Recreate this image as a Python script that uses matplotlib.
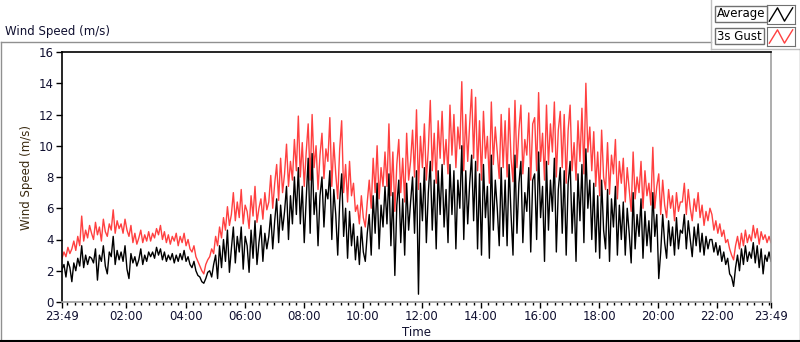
import numpy as np
import matplotlib.pyplot as plt
from matplotlib.lines import Line2D

# 4-minute samples from 23:49 to 23:49 next day (one row per hour)
gust = [
    2.8, 3.2, 2.9, 3.5, 3.1, 3.4, 3.9, 3.3, 4.2, 3.6, 5.5, 3.9, 4.6, 4.1, 4.9,
    4.4, 4.0, 5.1, 4.3, 4.8, 3.9, 5.3, 4.5, 4.2, 5.0, 4.6, 5.9, 4.4, 5.2, 4.7,
    5.0, 4.4, 5.3, 4.6, 4.2, 4.9, 3.8, 4.4, 3.7, 4.1, 4.6, 3.8, 4.3, 3.9, 4.5,
    3.9, 4.4, 4.1, 4.7, 4.3, 4.9, 4.0, 4.5, 3.8, 4.3, 3.7, 4.2, 3.9, 4.4, 3.6,
    4.2, 3.8, 4.4, 3.6, 4.0, 3.4, 3.2, 3.6, 2.9, 2.6, 2.3, 2.0, 1.8, 2.4, 2.7,
    2.9, 3.4, 3.1, 4.2, 3.6, 4.8, 4.1, 5.4, 4.6, 6.1, 4.9, 5.6, 7.0, 5.2, 6.4,
    5.4, 7.2, 5.0, 6.2, 5.8, 4.7, 6.8, 5.5, 7.4, 5.1, 6.0, 6.6, 5.3, 7.0, 5.9,
    6.4, 8.1, 6.0, 7.6, 8.8, 6.5, 9.2, 7.0, 8.2, 10.1, 7.4, 9.0, 7.8, 10.4, 8.4,
    11.9, 8.0, 10.2, 7.4, 9.6, 11.4, 7.8, 12.0, 8.6, 10.0, 7.2, 9.4, 10.8, 7.9, 9.8,
    9.0, 11.8, 7.4, 10.2, 8.2, 6.6, 9.8, 11.6, 7.0, 8.8, 6.4, 9.0, 6.8, 7.6, 5.8,
    6.2, 5.0, 6.8, 5.4, 4.8, 6.4, 7.8, 6.0, 9.2, 7.0, 10.0, 6.6, 8.6, 7.4, 9.6,
    7.4, 11.4, 6.8, 9.6, 5.8, 8.8, 10.4, 7.0, 9.2, 6.4, 10.8, 7.8, 9.0, 11.0, 8.0,
    12.3, 7.2, 10.6, 8.6, 11.4, 7.8, 9.8, 12.9, 8.4, 10.8, 7.6, 11.6, 9.2, 12.2, 8.8,
    10.4, 8.2, 12.6, 9.4, 12.0, 8.6, 11.2, 9.8, 14.1, 8.4, 12.0, 9.0, 11.4, 13.6, 9.2,
    13.1, 8.4, 11.6, 7.8, 12.2, 9.2, 10.6, 7.6, 12.8, 8.8, 11.2, 9.6, 7.9, 12.0, 8.6,
    11.6, 8.0, 12.4, 9.2, 7.7, 12.9, 8.6, 11.0, 12.6, 8.2, 10.4, 9.4, 12.1, 7.8, 11.4,
    11.8, 8.4, 13.4, 9.0, 10.8, 7.8, 12.6, 8.8, 11.4, 9.6, 12.8, 8.0, 11.0, 12.2, 8.6,
    12.0, 7.6, 11.0, 12.6, 8.4, 10.2, 7.8, 11.6, 9.0, 12.4, 8.2, 14.0, 9.6, 11.2, 8.4,
    10.9, 7.4, 9.6, 6.8, 11.0, 8.0, 7.2, 10.2, 6.9, 9.4, 8.2, 10.4, 6.6, 9.0, 7.6,
    9.2, 6.4, 8.6, 7.2, 5.8, 9.6, 6.6, 8.0, 7.0, 9.0, 6.0, 8.4, 6.8, 7.6, 6.2,
    9.9, 6.0, 7.4, 8.2, 5.6, 7.8, 6.2, 5.4, 7.2, 6.0, 6.8, 5.2, 7.0, 5.8, 6.4,
    6.4, 7.6, 5.6, 7.2, 6.0, 5.2, 6.6, 5.8, 7.0, 5.4, 6.2, 4.9, 5.8, 5.2, 6.0,
    5.6, 4.6, 5.2, 4.4, 5.0, 4.2, 4.6, 3.8, 4.0, 3.4, 3.0, 2.7, 3.6, 4.2, 3.4,
    4.4, 3.6, 4.6, 3.8, 4.3, 3.9, 4.9, 4.1, 4.7, 3.7, 4.5, 4.0, 4.3, 3.8, 4.2,
    3.8,
]

average = [
    2.1, 2.4, 1.6, 2.6, 2.2, 1.3, 2.5, 2.0, 2.8, 2.3, 3.6, 2.2, 3.0, 2.4, 2.9,
    2.8, 2.5, 3.4, 1.4, 3.0, 2.6, 3.6, 2.3, 1.8, 3.2, 2.9, 4.2, 2.4, 3.3, 2.7,
    3.2, 2.6, 3.6, 2.1, 1.5, 3.1, 2.5, 2.9, 2.3, 2.7, 3.4, 2.4, 3.0, 2.6, 3.2,
    2.9, 3.2, 2.8, 3.5, 3.0, 3.4, 2.7, 3.2, 2.6, 3.0, 2.7, 3.1, 2.5, 3.0, 2.6,
    3.1, 2.7, 3.3, 2.6, 2.9, 2.4, 2.2, 2.6, 2.0, 1.7, 1.6, 1.3, 1.2, 1.5, 1.9,
    2.0, 1.6, 2.4, 3.0, 1.5, 3.6, 2.2, 4.0, 2.6, 4.6, 1.9, 3.4, 4.8, 2.5, 4.2,
    3.2, 4.8, 2.1, 4.2, 3.6, 1.9, 4.6, 2.8, 5.2, 2.4, 3.8, 4.9, 2.6, 4.4, 3.4,
    4.2, 5.6, 3.4, 5.2, 6.6, 3.8, 6.2, 4.6, 5.8, 7.4, 4.0, 6.8, 5.0, 8.0, 5.6,
    8.6, 5.0, 7.4, 3.8, 6.6, 9.2, 4.4, 9.5, 5.6, 7.0, 3.6, 6.8, 8.0, 4.8, 7.2,
    6.6, 8.4, 4.0, 7.2, 5.6, 3.0, 6.4, 8.2, 4.2, 6.0, 2.8, 5.8, 3.6, 5.0, 2.7,
    4.2, 2.4, 4.8, 3.2, 2.6, 4.4, 5.6, 3.0, 6.8, 4.4, 7.6, 3.4, 6.2, 4.8, 7.4,
    5.0, 8.2, 3.6, 7.0, 1.7, 6.2, 7.8, 3.8, 6.6, 3.0, 7.6, 4.6, 6.4, 8.0, 4.4,
    8.4, 0.5, 7.6, 5.2, 8.6, 3.8, 7.0, 9.0, 4.6, 7.8, 3.4, 8.4, 5.6, 8.8, 4.8,
    7.2, 3.8, 8.8, 5.6, 8.4, 3.4, 7.8, 6.0, 10.0, 4.0, 8.4, 5.0, 7.6, 9.4, 5.2,
    9.0, 3.4, 8.2, 3.0, 8.8, 5.4, 7.4, 2.8, 9.4, 4.6, 7.8, 6.0, 3.6, 8.6, 4.2,
    7.8, 3.6, 8.8, 5.6, 3.0, 9.4, 4.4, 7.6, 9.0, 3.8, 7.0, 5.8, 8.6, 3.2, 7.8,
    8.2, 4.0, 9.6, 5.4, 7.4, 2.6, 9.0, 4.6, 7.8, 5.8, 9.2, 3.2, 7.2, 8.6, 4.4,
    8.4, 3.0, 7.6, 9.0, 4.4, 7.0, 2.6, 8.2, 5.2, 8.8, 3.8, 9.8, 6.0, 7.8, 4.0,
    7.6, 3.2, 6.8, 2.8, 7.8, 4.6, 3.4, 7.2, 2.6, 6.6, 4.8, 7.4, 3.0, 6.2, 4.0,
    6.4, 3.0, 6.0, 4.4, 2.5, 7.0, 3.4, 5.6, 4.2, 6.6, 2.8, 5.8, 3.6, 5.2, 3.2,
    7.0, 4.2, 5.6, 1.5, 3.2, 5.6, 3.8, 2.8, 5.2, 3.6, 4.8, 3.0, 5.4, 3.4, 4.6,
    4.4, 5.6, 3.4, 5.2, 4.0, 2.9, 4.8, 3.6, 5.0, 3.2, 4.4, 3.0, 4.2, 3.4, 4.0,
    4.0, 3.2, 3.8, 3.0, 3.6, 2.6, 3.2, 2.4, 2.8, 1.8, 1.6, 1.0, 2.2, 3.0, 2.0,
    3.4, 2.4, 3.6, 2.6, 3.2, 2.8, 3.8, 2.5, 3.6, 2.2, 3.4, 1.8, 3.0, 2.6, 3.2,
    2.6,
]

# minutes after 23:49
minutes = np.arange(len(gust)) * 4
tick_pos = [0] + [131 + 120 * i for i in range(11)] + [1440]
tick_lbl = ["23:49"] + ["%02d:00" % (2 * (i + 1)) for i in range(11)] + ["23:49"]
minor_pos = [11 + 15 * k for k in range(96)]

W, H = 800, 342
fig = plt.figure(figsize=(8, 3.42), dpi=100)
plt.rcParams['font.family'] = ['DejaVu Sans']
txt = '#101030'

ax = fig.add_axes([62 / W, (H - 302) / H, 709 / W, 250 / H])
ax.plot(minutes, gust, color='#ff4040', lw=1.0)
ax.plot(minutes, average, color='black', lw=1.0)
ax.set_xlim(0, 1440)
ax.set_ylim(0, 16)
ax.set_yticks(range(0, 17, 2))
ax.set_xticks(tick_pos)
ax.set_xticklabels(tick_lbl)
ax.set_xticks(minor_pos, minor=True)
ax.tick_params(axis='both', which='major', labelsize=8.5, labelcolor=txt,
               length=4, width=1, direction='out', pad=2)
ax.tick_params(axis='x', which='minor', length=2.5, width=1, direction='out')
ax.set_xlabel('Time', fontsize=8.5, color=txt, labelpad=2)
ax.set_ylabel('Wind Speed (m/s)', fontsize=8.5, color='#3a2a10', labelpad=4)
for s in ['top', 'left']:
    ax.spines[s].set_color('black')
    ax.spines[s].set_linewidth(1.2)
for s in ['bottom', 'right']:
    ax.spines[s].set_color('#a0a0a0')
    ax.spines[s].set_linewidth(1.2)

# outer panel frame
def fline(x0, y0, x1, y1, c, lw=1.0):
    fig.add_artist(Line2D([x0 / W, x1 / W], [1 - y0 / H, 1 - y1 / H],
                          color=c, lw=lw, transform=fig.transFigure))

fline(0.5, 42, 711, 42, '#909090')
fline(711, 0, 711, 49, '#c0c0c0')
fline(711, 49, 800, 49, '#c0c0c0')
fline(0.5, 42, 0.5, 342, '#909090')
fline(799.5, 49, 799.5, 342, '#909090')
fline(0, 341, 800, 341, 'black', 1.5)

fig.text(5 / W, 1 - 31 / H, 'Wind Speed (m/s)', fontsize=8.5, color=txt,
         va='center', ha='left')

# legend
for i, (name, col) in enumerate([('Average', 'black'), ('3s Gust', '#ff4040')]):
    y0 = 5 + 22 * i
    fig.text(717 / W, 1 - (y0 + 9) / H, name, fontsize=8.5, color='black',
             va='center', ha='left',
             bbox=dict(boxstyle='square,pad=0.15', fc='white', ec='#707070', lw=1))
    la = fig.add_axes([767 / W, 1 - (y0 + 19) / H, 28 / W, 19 / H])
    la.plot([0, 0.35, 0.65, 1], [0.15, 0.85, 0.15, 0.85], color=col, lw=1)
    la.set_xlim(-0.1, 1.1)
    la.set_ylim(0, 1)
    la.set_xticks([])
    la.set_yticks([])
    for s in la.spines.values():
        s.set_color('#707070')

fig.savefig('out.png', dpi=100)
